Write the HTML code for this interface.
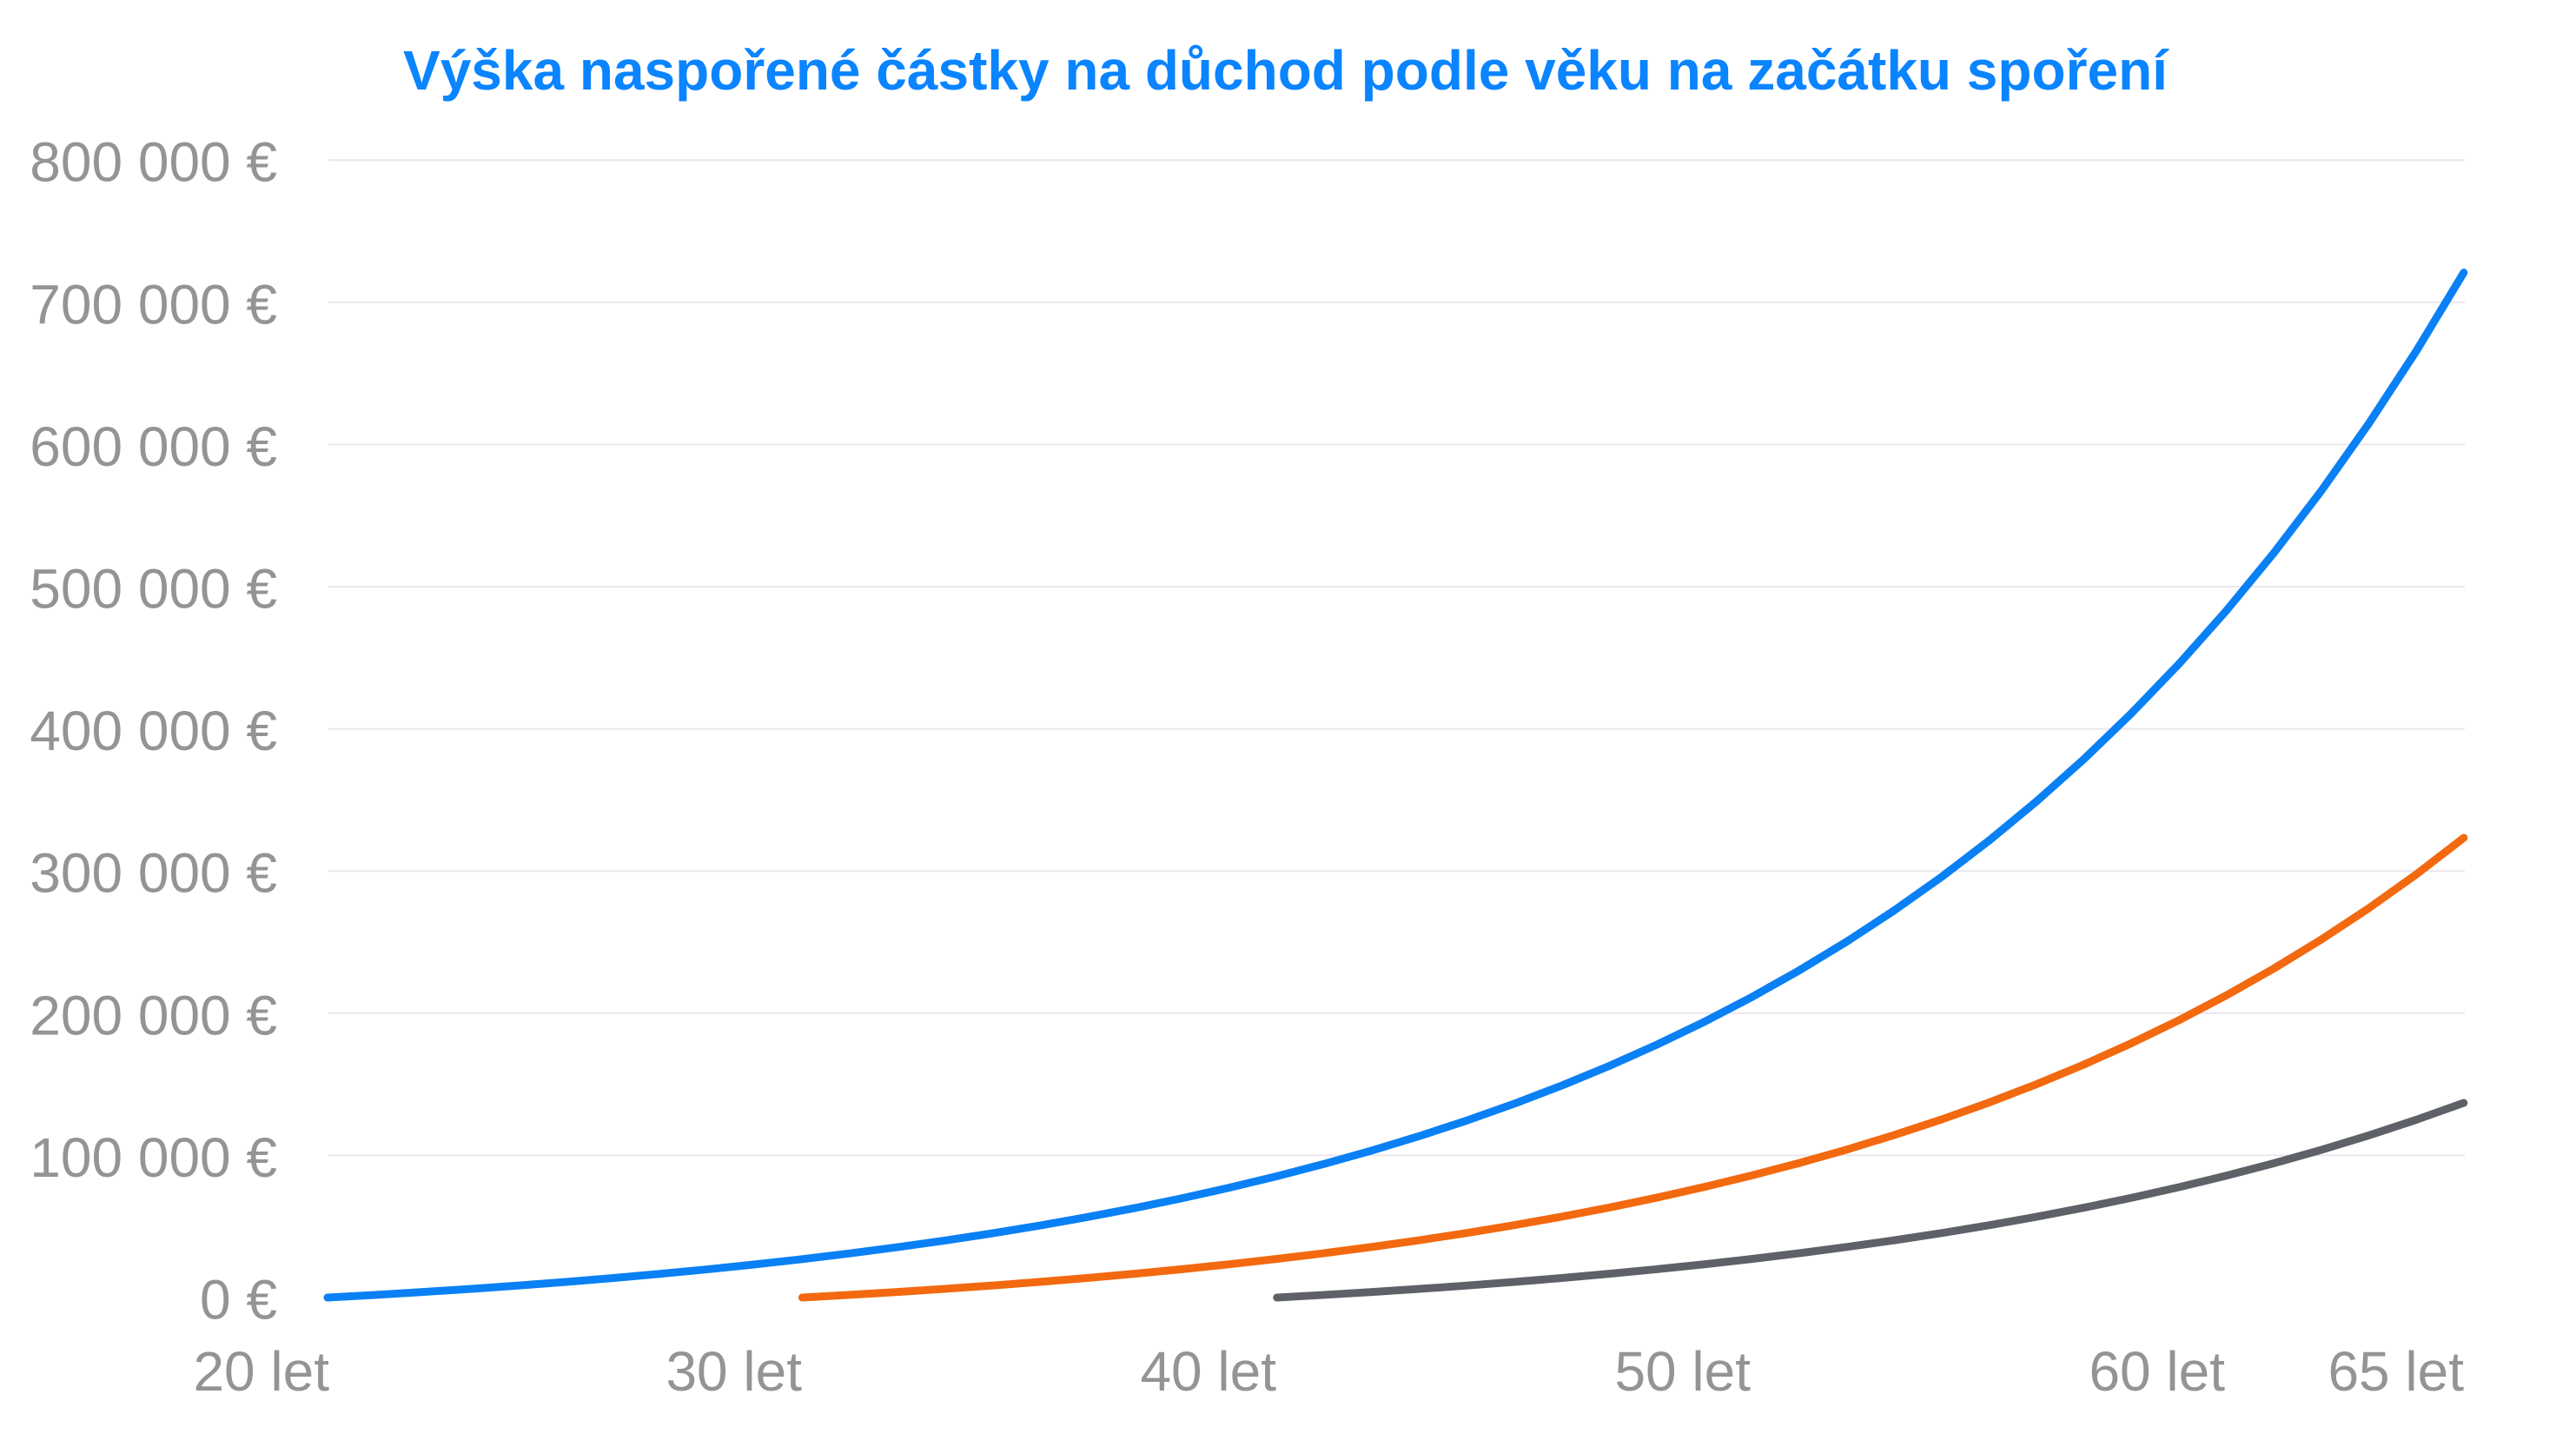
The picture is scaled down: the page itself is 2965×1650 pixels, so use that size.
<!DOCTYPE html>
<html>
<head>
<meta charset="utf-8">
<style>
  html, body { margin: 0; padding: 0; background: #ffffff; }
  svg { display: block; }
  .yl { font-family: "Liberation Sans", Arial, sans-serif; font-size: 64px; fill: #949494; text-anchor: end; }
  .xl { font-family: "Liberation Sans", Arial, sans-serif; font-size: 64px; fill: #949494; text-anchor: end; }
  .title { font-family: "Liberation Sans", Arial, sans-serif; font-size: 64px; font-weight: bold; fill: #0A84FF; }
  .grid { stroke: #ebe6ef; stroke-width: 2; }
  .ln { fill: none; stroke-width: 9; stroke-linecap: round; stroke-linejoin: round; }
</style>
</head>
<body>
<svg width="2965" height="1650" viewBox="0 0 2965 1650" xmlns="http://www.w3.org/2000/svg">
  <rect x="0" y="0" width="2965" height="1650" fill="#ffffff"/>

  <text class="title" x="464" y="103">Výška naspořené částky na důchod podle věku na začátku spoření</text>

  <!-- gridlines -->
  <line class="grid" x1="378" y1="184.2" x2="2837" y2="184.2"/>
  <line class="grid" x1="378" y1="347.8" x2="2837" y2="347.8"/>
  <line class="grid" x1="378" y1="511.4" x2="2837" y2="511.4"/>
  <line class="grid" x1="378" y1="675" x2="2837" y2="675"/>
  <line class="grid" x1="378" y1="838.6" x2="2837" y2="838.6"/>
  <line class="grid" x1="378" y1="1002.2" x2="2837" y2="1002.2"/>
  <line class="grid" x1="378" y1="1165.8" x2="2837" y2="1165.8"/>
  <line class="grid" x1="378" y1="1329.4" x2="2837" y2="1329.4"/>

  <!-- y labels -->
  <text class="yl" x="319" y="208.7">800 000 €</text>
  <text class="yl" x="319" y="372.3">700 000 €</text>
  <text class="yl" x="319" y="535.9">600 000 €</text>
  <text class="yl" x="319" y="699.5">500 000 €</text>
  <text class="yl" x="319" y="863.1">400 000 €</text>
  <text class="yl" x="319" y="1026.7">300 000 €</text>
  <text class="yl" x="319" y="1190.3">200 000 €</text>
  <text class="yl" x="319" y="1353.9">100 000 €</text>
  <text class="yl" x="319" y="1517.5">0 €</text>

  <!-- x labels -->
  <text class="xl" x="379" y="1600">20 let</text>
  <text class="xl" x="923" y="1600">30 let</text>
  <text class="xl" x="1469" y="1600">40 let</text>
  <text class="xl" x="2015" y="1600">50 let</text>
  <text class="xl" x="2561" y="1600">60 let</text>
  <text class="xl" x="2836" y="1600">65 let</text>

  <!-- blue series -->
  <polyline class="ln" stroke="#0A80F5" points="
377,1493 431.6,1489.95 486.3,1486.65 540.9,1483.09 595.6,1479.25 650.2,1475.10 704.8,1470.62 759.5,1465.78 814.1,1460.55 868.8,1454.90 923.4,1448.80 978.0,1442.21 1032.7,1435.10 1087.3,1427.41 1142.0,1419.12 1196.6,1410.15 1251.2,1400.48 1305.9,1390.02 1360.5,1378.73 1415.2,1366.54 1469.8,1353.37 1524.4,1339.15 1579.1,1323.79 1633.7,1307.20 1688.4,1289.29 1743.0,1269.94 1797.6,1249.04 1852.3,1226.48 1906.9,1202.10 1961.6,1175.78 2016.2,1147.35 2070.8,1116.65 2125.5,1083.49 2180.1,1047.68 2234.8,1009.00 2289.4,967.23 2344.0,922.11 2398.7,873.39 2453.3,820.77 2508.0,763.94 2562.6,702.57 2617.2,636.28 2671.9,564.69 2726.5,487.38 2781.2,403.88 2835.8,313.69"/>

  <!-- orange series -->
  <polyline class="ln" stroke="#F2690F" points="
923.4,1493 978.0,1489.93 1032.7,1486.62 1087.3,1483.03 1142.0,1479.17 1196.6,1474.99 1251.2,1470.48 1305.9,1465.61 1360.5,1460.35 1415.2,1454.67 1469.8,1448.53 1524.4,1441.91 1579.1,1434.75 1633.7,1427.02 1688.4,1418.67 1743.0,1409.65 1797.6,1399.92 1852.3,1389.40 1906.9,1378.04 1961.6,1365.78 2016.2,1352.53 2070.8,1338.22 2125.5,1322.77 2180.1,1306.08 2234.8,1288.06 2289.4,1268.60 2344.0,1247.57 2398.7,1224.87 2453.3,1200.35 2508.0,1173.87 2562.6,1145.27 2617.2,1114.38 2671.9,1081.02 2726.5,1044.99 2781.2,1006.08 2835.8,964.06"/>

  <!-- gray series -->
  <polyline class="ln" stroke="#5E6168" points="
1469.8,1493 1524.4,1489.94 1579.1,1486.63 1633.7,1483.05 1688.4,1479.19 1743.0,1475.02 1797.6,1470.52 1852.3,1465.66 1906.9,1460.41 1961.6,1454.74 2016.2,1448.61 2070.8,1442.00 2125.5,1434.85 2180.1,1427.14 2234.8,1418.81 2289.4,1409.81 2344.0,1400.09 2398.7,1389.59 2453.3,1378.25 2508.0,1366.01 2562.6,1352.79 2617.2,1338.50 2671.9,1323.08 2726.5,1306.42 2781.2,1288.43 2835.8,1269.01"/>
</svg>
</body>
</html>
